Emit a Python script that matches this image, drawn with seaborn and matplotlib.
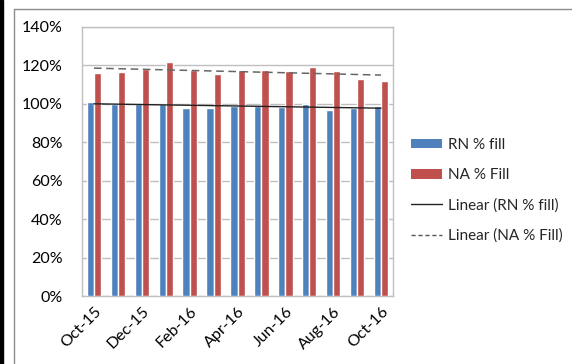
import numpy as np
import pandas as pd
import matplotlib
matplotlib.use("Agg")
import matplotlib.pyplot as plt
from matplotlib.patches import Rectangle, Patch
from matplotlib.lines import Line2D
import seaborn as sns

months = ["Oct-15", "Nov-15", "Dec-15", "Jan-16", "Feb-16", "Mar-16", "Apr-16",
          "May-16", "Jun-16", "Jul-16", "Aug-16", "Sep-16", "Oct-16"]
rn_fill = [101.2, 100.0, 99.7, 99.7, 97.8, 97.8, 99.0, 98.7, 98.2, 100.0, 96.9, 97.8, 98.7]
na_fill = [116.1, 116.6, 118.2, 121.7, 117.4, 115.6, 117.4, 117.4, 117.0, 119.0, 117.0, 112.9, 112.0]
series_names = ["RN % fill", "NA % Fill"]
colors = ["#4F81BD", "#C0504D"]

df = pd.DataFrame({
    "month": months * 2,
    "value": np.array(rn_fill + na_fill) / 100.0,
    "series": [series_names[0]] * len(months) + [series_names[1]] * len(months),
})

sns.set_theme(style="white")
plt.rcParams["font.family"] = ["Lato", "DejaVu Sans"]

fig = plt.figure(figsize=(5.72, 3.64), dpi=100)
ax = fig.add_axes([82 / 572, 1 - 296 / 364, (393 - 82) / 572, (296 - 27) / 364])

sns.barplot(data=df, x="month", y="value", hue="series", palette=colors,
            width=0.6, saturation=1, ax=ax, legend=False, zorder=3)

# linear trend lines for each series
x = np.arange(len(months))
xs = np.array([0, len(months) - 1])
k, b = np.polyfit(x, np.array(rn_fill) / 100.0, 1)
ax.plot(xs, k * xs + b, color="#222222", lw=1.0, ls="-", zorder=4)
k, b = np.polyfit(x, np.array(na_fill) / 100.0, 1)
ax.plot(xs, k * xs + b, color="#666666", lw=1.1, ls=(0, (5, 3)), zorder=4)

ax.set_ylim(0, 1.4)
ax.set_xlim(-0.5, len(months) - 0.5)
ticks = np.arange(0, 1.41, 0.2)
ax.set_yticks(ticks)
ax.set_yticklabels([f"{int(round(v * 100))}%" for v in ticks])
ax.yaxis.grid(True, color="#BFBFBF", lw=1.0)
ax.set_axisbelow(True)
ax.set_xticks(x[::2])
ax.set_xticklabels(months[::2], rotation=45, ha="right", rotation_mode="anchor")
ax.set_xlabel("")
ax.set_ylabel("")
ax.tick_params(axis="both", labelsize=11.5, colors="#000000", length=0)
ax.tick_params(axis="x", pad=6)
ax.tick_params(axis="y", pad=14)
for s in ax.spines.values():
    s.set_color("#BFBFBF")
    s.set_linewidth(1.0)

handles = [
    Patch(facecolor=colors[0], edgecolor="none"),
    Patch(facecolor=colors[1], edgecolor="none"),
    Line2D([0], [0], color="#222222", lw=1.0),
    Line2D([0], [0], color="#555555", lw=1.0, ls=(0, (3, 2))),
]
labels = ["RN % fill", "NA % Fill", "Linear (RN % fill)", "Linear (NA % Fill)"]
fig.legend(handles, labels, loc="upper left", bbox_to_anchor=(411 / 572, 1 - 138 / 364),
           frameon=False, fontsize=11, handlelength=2.0, handleheight=0.6,
           labelspacing=1.05, handletextpad=0.45, borderaxespad=0, borderpad=0)

# chart area border and the dark strip on the left edge
fig.add_artist(Line2D([14 / 572, 14 / 572], [0, 1 - 9 / 364], color="#8C8C8C", lw=1.0,
                      transform=fig.transFigure))
fig.add_artist(Line2D([14 / 572, 1], [1 - 9 / 364, 1 - 9 / 364], color="#8C8C8C", lw=1.0,
                      transform=fig.transFigure))
fig.add_artist(Rectangle((0, 0), 3 / 572, 1, color="black", transform=fig.transFigure))

fig.savefig("out.png", dpi=100)
